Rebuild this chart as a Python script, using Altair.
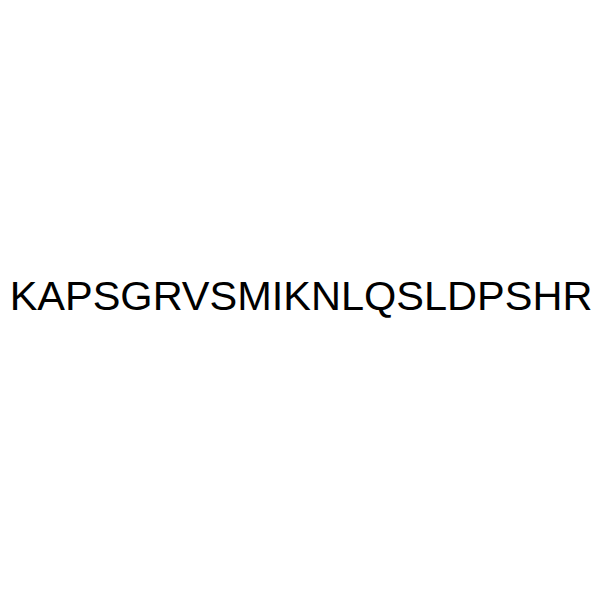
import altair as alt
import pandas as pd

labels = ["KAPSGRVSMIKNLQSLDPSHR"]
xs = [0]
ys = [0]

df = pd.DataFrame({"x": xs, "y": ys, "label": labels})

chart = alt.Chart(df).mark_text(
    font="Liberation Sans", fontSize=41.5, baseline="alphabetic", align="center", dx=1, dy=10, color="black"
).encode(
    x=alt.X("x:Q", scale=alt.Scale(domain=[-1, 1]), axis=None),
    y=alt.Y("y:Q", scale=alt.Scale(domain=[-1, 1]), axis=None),
    text="label:N",
).properties(
    width=584, height=584, padding=0, autosize="none",
).configure_view(stroke=None)

chart.save("out.html", embed_options={"renderer": "svg", "actions": False})
